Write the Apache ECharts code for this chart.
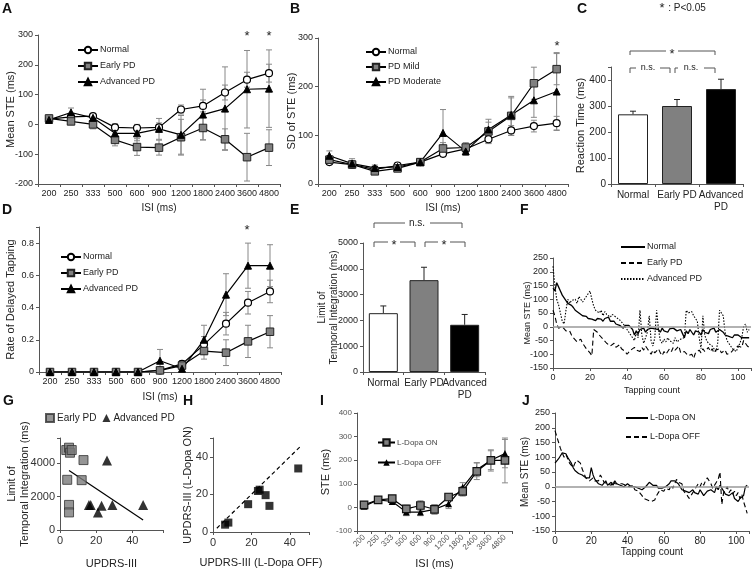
<!DOCTYPE html>
<html><head><meta charset="utf-8">
<script src="https://cdn.jsdelivr.net/npm/echarts@6/dist/echarts.min.js"></script>
<style>html,body{margin:0;padding:0;background:#fff}#c{width:755px;height:570px}</style>
</head><body><div id="c"></div>
<script>
// ---------- DATA ----------
const isiCats = ['200','250','333','500','600','900','1200','1800','2400','3600','4800'];
// Panel A: Mean STE
const aNormal = [18, 25, 28, -10, -12, -10, 50, 62, 107, 150, 172];
const aNormalErr = [8, 8, 8, 12, 12, 15, 15, 20, 25, 25, 30];
const aEarly = [20, 10, 0, -52, -76, -78, -43, -12, -50, -110, -78];
const aEarlyErr = [10, 10, 15, 20, 28, 25, 60, 40, 35, 80, 60];
const aAdv = [15, 40, 22, -30, -30, -15, -35, 33, 53, 118, 120];
const aAdvErr = [10, 15, 12, 20, 25, 35, 65, 85, 140, 130, 130];
// Panel B: SD of STE
const bNormal = [45, 40, 30, 38, 45, 62, 72, 92, 110, 119, 125];
const bNormalErr = [5, 5, 5, 5, 5, 6, 8, 8, 10, 12, 14];
const bMild = [50, 40, 26, 32, 45, 73, 75, 108, 140, 207, 236];
const bMildErr = [8, 8, 6, 6, 6, 12, 10, 25, 40, 33, 32];
const bMod = [58, 42, 33, 35, 45, 105, 67, 112, 142, 172, 190];
const bModErr = [10, 10, 6, 6, 6, 48, 8, 15, 35, 35, 80];
// Panel C: Reaction time
const groupCats = ['Normal', 'Early PD', 'Advanced\nPD'];
const cVals = [268, 300, 365];
const cErr = [12, 25, 38];
// Panel D: Rate of delayed tapping
const dNormal = [0, 0, 0, 0, 0, 0.01, 0.05, 0.17, 0.30, 0.43, 0.50];
const dNormalErr = [0, 0, 0, 0, 0, 0.01, 0.02, 0.05, 0.07, 0.07, 0.07];
const dEarly = [0, 0, 0, 0, 0, 0.01, 0.04, 0.13, 0.12, 0.19, 0.25];
const dEarlyErr = [0, 0, 0, 0, 0, 0.01, 0.02, 0.05, 0.08, 0.10, 0.10];
const dAdv = [0, 0, 0, 0, 0, 0.07, 0.02, 0.20, 0.48, 0.66, 0.66];
const dAdvErr = [0, 0, 0, 0, 0, 0.07, 0.02, 0.09, 0.13, 0.14, 0.13];
// Panel E: Limit of temporal integration
const eVals = [2280, 3560, 1830];
const eErr = [280, 500, 400];
// Panel F: Mean STE vs tapping count (index = tapping count)
const fNormal = [140,130,160,145,130,115,105,95,85,80,78,70,60,55,50,48,40,35,38,30,32,28,25,22,30,25,28,20,30,25,35,20,15,20,10,15,5,10,-5,5,0,5,0,-10,-30,-15,-25,-10,-15,-5,-20,-10,-15,-5,-12,-8,-15,-10,-20,-5,-15,-10,-20,-8,-12,-5,-10,-15,-20,-10,-25,-40,-15,-25,-10,-20,-30,-15,-10,-20,-30,-10,-20,-15,-25,-10,-15,-5,-20,-25,-10,-15,-20,-30,-25,-35,-30,-40,-30,-35,-30,-25,-40,-35,-40,-38,-40];
const fEarly = [60,40,10,-5,-10,0,-5,-15,-20,-15,-30,-40,-35,-55,-50,-45,-60,-55,-80,-85,-95,-105,-10,-15,-20,-30,-25,-45,-50,-60,-55,-70,-65,-60,-75,-70,-65,-80,-85,-90,-100,-95,-85,-90,-75,-85,-80,-90,-75,-85,-70,-80,-90,-100,-85,-95,-90,-80,-95,-105,-90,-100,-95,-80,-90,-75,-85,-80,-70,-95,-100,-90,-95,-105,-110,-100,-115,-95,-90,-85,-95,-80,-90,-85,-75,-90,-80,-95,-85,-90,-80,-95,-90,-85,-100,-105,-95,-90,-80,-85,-70,-65,-75,-50,-60,-70,-75];
const fAdv = [220,150,100,80,50,20,10,60,100,85,95,90,100,85,110,105,90,100,95,120,130,100,75,60,65,50,60,40,55,45,50,35,45,40,35,30,25,20,10,0,-10,-15,-30,-40,-50,-20,-40,60,-30,-60,-40,-20,40,-50,-70,-40,60,-10,-50,-60,-45,-55,-40,-50,-45,-60,-40,-55,-50,-45,-50,-40,60,50,45,55,40,30,20,-40,-80,40,-30,-50,-60,-55,-70,-80,-90,-60,60,50,40,-20,-50,-60,-70,-80,-75,-90,-95,-60,-40,0,10,-20,-10];
// Panel G: UPDRS-III vs limit of temporal integration
const gEarly = [[3.5,4780],[5,4920],[5.5,4620],[6.5,4780],[13,4180],[4,3000],[12,2980],[5,1500],[5,1050]];
const gAdv = [[26,4150],[16,1500],[17,1500],[21,1050],[23,1450],[29,1500],[46,1500]];
const gReg = [[5,3550],[46,600]];
// Panel H: UPDRS-III OFF vs ON
const hPts = [[6.3,3.9],[8,5],[18.3,14.8],[23.4,21.8],[24.3,22.5],[27.4,19.6],[29.4,13.9],[44.4,33.8]];
const hRef = [[2,2],[46,46]];
// Panel I: STE, L-Dopa ON / OFF
const iOn = [11, 32, 37, -6, 8, -8, 44, 68, 153, 199, 199];
const iOnErr = [10, 10, 10, 15, 20, 20, 15, 20, 35, 45, 95];
const iOff = [5, 32, 25, -20, -20, -8, 15, 85, 160, 200, 228];
const iOffErr = [10, 10, 10, 15, 15, 20, 20, 20, 30, 40, 60];
// Panel J: Mean STE vs tapping count, L-Dopa ON / OFF
const jOn = [80,85,95,105,115,110,112,100,90,80,65,55,50,45,48,40,35,30,25,30,65,40,25,20,10,15,5,10,20,5,10,15,5,20,10,15,5,10,0,5,10,5,0,-5,0,5,-5,0,-10,-5,0,5,15,10,5,0,5,-5,-10,-5,-10,0,5,10,20,15,20,15,10,5,-10,-5,-15,-10,-20,-25,-10,-20,-15,-25,-10,-20,-30,-25,-15,-20,-10,-15,-20,0,-10,5,0,-15,-25,-20,-30,-35,-20,-40,-45,-50,-40,-45,-30,0,5];
const jOff = [190,170,150,130,115,100,110,95,80,75,65,80,90,85,80,60,45,30,25,20,25,30,20,25,20,40,30,15,20,10,15,5,20,10,15,10,5,10,15,5,10,0,-5,5,-10,-5,-15,-20,-30,-40,-35,-45,-40,-50,-55,-45,-30,-20,-10,-5,-15,-5,0,-10,5,-5,10,25,15,20,10,-15,-20,-30,-40,-35,-20,-10,-5,10,0,15,5,20,30,35,10,-5,0,15,25,50,-60,-20,-10,0,-20,-10,-25,-15,-30,-20,-40,-25,-50,-70,-90];

// ---------- HELPERS ----------
const FONT = 'Liberation Sans, Arial, sans-serif';
function merge(base, o) {
  for (const k in o) {
    if (o[k] && typeof o[k] === 'object' && !Array.isArray(o[k]) && base[k] && typeof base[k] === 'object') base[k] = Object.assign({}, base[k], o[k]);
    else base[k] = o[k];
  }
  return base;
}
function ax(o) {
  return merge({
    axisLine: {show: true, onZero: false, lineStyle: {color: '#555', width: 1}},
    axisTick: {show: true, length: 3, lineStyle: {color: '#555'}},
    splitLine: {show: false},
    axisLabel: {color: '#222', fontSize: 9, fontFamily: FONT, margin: 5},
    nameTextStyle: {color: '#222', fontSize: 10, fontFamily: FONT},
    nameLocation: 'middle',
    nameMoveOverlap: false
  }, o);
}
const idxData = arr => arr.map((v, i) => [i, v]);
function errData(means, errs, upOnly) {
  const out = [];
  means.forEach((m, i) => { if (errs[i] > 0) out.push([i, upOnly ? m : m - errs[i], m + errs[i]]); });
  return out;
}
function errSeries(g, means, errs, color, upOnly) {
  return {
    type: 'custom', xAxisIndex: g, yAxisIndex: g, z: 1, silent: true,
    data: errData(means, errs, upOnly),
    encode: {x: 0, y: [1, 2]},
    renderItem: function (params, api) {
      const x = api.value(0), lo = api.value(1), hi = api.value(2);
      const p1 = api.coord([x, lo]), p2 = api.coord([x, hi]);
      const w = 3, st = {stroke: color, lineWidth: 1};
      const ch = [{type: 'line', shape: {x1: p1[0], y1: p1[1], x2: p2[0], y2: p2[1]}, style: st},
                  {type: 'line', shape: {x1: p2[0] - w, y1: p2[1], x2: p2[0] + w, y2: p2[1]}, style: st}];
      if (!upOnly) ch.push({type: 'line', shape: {x1: p1[0] - w, y1: p1[1], x2: p1[0] + w, y2: p1[1]}, style: st});
      return {type: 'group', children: ch};
    }
  };
}
const STY = {
  normal: {symbol: 'circle', symbolSize: 7, itemStyle: {color: '#fff', borderColor: '#000', borderWidth: 1.2}},
  early: {symbol: 'rect', symbolSize: 7.5, itemStyle: {color: '#808080', borderColor: '#222', borderWidth: 1}},
  adv: {symbol: 'triangle', symbolSize: 7, itemStyle: {color: '#000', borderColor: '#000', borderWidth: 1}}
};
function markerLine(g, name, data, sty) {
  return Object.assign({
    type: 'line', name: name, xAxisIndex: g, yAxisIndex: g, data: data,
    showSymbol: true, showAllSymbol: true, z: 3,
    lineStyle: {color: '#000', width: 1.2}
  }, sty);
}
function plainLine(g, name, data, type, extra) {
  return Object.assign({
    type: 'line', name: name, xAxisIndex: g, yAxisIndex: g, data: idxData(data),
    showSymbol: false, symbol: 'none', z: 3,
    itemStyle: {color: '#000'},
    lineStyle: {color: '#000', width: 1.1, type: type}
  }, extra || {});
}
const zeroLine = {silent: true, symbol: 'none', label: {show: false}, lineStyle: {color: '#999', width: 1.5, type: 'solid'}, data: [{yAxis: 0}]};
function lg(names, left, top, o) {
  return merge({
    data: names, left: left, top: top, orient: 'vertical', padding: 0,
    itemWidth: 20, itemHeight: 8, itemGap: 5, selectedMode: false,
    formatter: n => n.split('|')[1],
    textStyle: {fontSize: 9, fontFamily: FONT, color: '#222', lineHeight: 10, padding: [0, 0, 0, -3]}
  }, o || {});
}
const hideMax = (mx) => (v => (Math.abs(v - mx) < 1e-9 ? '' : String(+v.toFixed(2))));

// ---------- OPTION ----------
const grid = [
  {left: 38, top: 35, width: 242, height: 149},
  {left: 318, top: 38, width: 250, height: 146},
  {left: 611, top: 67, width: 132, height: 117},
  {left: 39, top: 227, width: 242, height: 145},
  {left: 363, top: 243, width: 122, height: 129},
  {left: 553, top: 258, width: 198, height: 110},
  {left: 60, top: 438, width: 103, height: 93},
  {left: 213, top: 438, width: 96, height: 94},
  {left: 357, top: 413, width: 155, height: 118},
  {left: 555, top: 413, width: 194, height: 118}
];
const xAxis = [
  ax({type: 'category', gridIndex: 0, data: isiCats, axisLabel: {interval: 0}, name: 'ISI (ms)', nameGap: 19}),
  ax({type: 'category', gridIndex: 1, data: isiCats, axisLabel: {interval: 0}, name: 'ISI (ms)', nameGap: 19}),
  ax({type: 'category', gridIndex: 2, data: groupCats, axisLabel: {interval: 0, fontSize: 10, lineHeight: 12}}),
  ax({type: 'category', gridIndex: 3, data: isiCats, axisLabel: {interval: 0}, name: 'ISI (ms)', nameGap: 20}),
  ax({type: 'category', gridIndex: 4, data: groupCats, axisLabel: {interval: 0, fontSize: 10, lineHeight: 12}}),
  ax({type: 'value', gridIndex: 5, min: 0, max: 107, interval: 20, axisLabel: {formatter: hideMax(107)}, name: 'Tapping count', nameGap: 18, nameTextStyle: {fontSize: 9}}),
  ax({type: 'value', gridIndex: 6, min: 0, max: 57, interval: 20, axisLabel: {formatter: hideMax(57), fontSize: 11, color: '#333'}, name: 'UPDRS-III', nameGap: 28, nameTextStyle: {fontSize: 11}}),
  ax({type: 'value', gridIndex: 7, min: 0, max: 50, interval: 20, axisLabel: {formatter: hideMax(50), fontSize: 11, color: '#333'}, name: 'UPDRS-III (L-Dopa OFF)', nameGap: 25, nameTextStyle: {fontSize: 11}}),
  ax({type: 'category', gridIndex: 8, data: isiCats, axisLabel: {interval: 0, rotate: 45, fontSize: 8, color: '#555'}, name: 'ISI (ms)', nameGap: 27, nameTextStyle: {fontSize: 11}}),
  ax({type: 'value', gridIndex: 9, min: 0, max: 107, interval: 20, axisLabel: {formatter: hideMax(107), fontSize: 10}, name: 'Tapping count', nameGap: 16, nameTextStyle: {fontSize: 10}})
];
const yAxis = [
  ax({type: 'value', gridIndex: 0, min: -200, max: 300, interval: 100, name: 'Mean STE (ms)', nameGap: 22, nameTextStyle: {fontSize: 11}}),
  ax({type: 'value', gridIndex: 1, min: 0, max: 300, interval: 100, name: 'SD of STE (ms)', nameGap: 21, nameTextStyle: {fontSize: 11}}),
  ax({type: 'value', gridIndex: 2, min: 0, max: 450, interval: 100, axisLabel: {formatter: hideMax(450), fontSize: 10}, name: 'Reaction Time (ms)', nameGap: 25, nameTextStyle: {fontSize: 11}}),
  ax({type: 'value', gridIndex: 3, min: 0, max: 0.9, interval: 0.2, axisLabel: {formatter: hideMax(0.9)}, name: 'Rate of Delayed Tapping', nameGap: 23, nameTextStyle: {fontSize: 11}}),
  ax({type: 'value', gridIndex: 4, min: 0, max: 5000, interval: 1000, axisLabel: {fontSize: 9, formatter: v => String(v)}, name: 'Limit of\nTemporal Integration (ms)', nameGap: 23, nameTextStyle: {fontSize: 10, lineHeight: 12}}),
  ax({type: 'value', gridIndex: 5, min: -150, max: 250, interval: 50, axisLabel: {fontSize: 9}, name: 'Mean STE (ms)', nameGap: 21, nameTextStyle: {fontSize: 9}}),
  ax({type: 'value', gridIndex: 6, min: 0, max: 5500, interval: 2000, axisLabel: {formatter: hideMax(5500), fontSize: 11, color: '#333'}, name: 'Limit of\nTemporal Integration (ms)', nameGap: 29, nameTextStyle: {fontSize: 11, lineHeight: 13}}),
  ax({type: 'value', gridIndex: 7, min: 0, max: 50, interval: 20, axisLabel: {formatter: hideMax(50), fontSize: 11, color: '#333', margin: 5}, name: 'UPDRS-III (L-Dopa ON)', nameGap: 20, nameTextStyle: {fontSize: 11}}),
  ax({type: 'value', gridIndex: 8, min: -100, max: 400, interval: 100, axisLabel: {fontSize: 8, color: '#555'}, name: 'STE (ms)', nameGap: 26, nameTextStyle: {fontSize: 11}}),
  ax({type: 'value', gridIndex: 9, min: -150, max: 250, interval: 50, axisLabel: {fontSize: 9}, name: 'Mean STE (ms)', nameGap: 25, nameTextStyle: {fontSize: 10}})
];

const series = [
  // A
  errSeries(0, aNormal, aNormalErr, '#888'), errSeries(0, aEarly, aEarlyErr, '#888'), errSeries(0, aAdv, aAdvErr, '#888'),
  markerLine(0, 'A|Normal', aNormal, STY.normal), markerLine(0, 'A|Early PD', aEarly, STY.early), markerLine(0, 'A|Advanced PD', aAdv, STY.adv),
  // B
  errSeries(1, bNormal, bNormalErr, '#888'), errSeries(1, bMild, bMildErr, '#888'), errSeries(1, bMod, bModErr, '#888'),
  markerLine(1, 'B|Normal', bNormal, STY.normal), markerLine(1, 'B|PD Mild', bMild, STY.early), markerLine(1, 'B|PD Moderate', bMod, STY.adv),
  // C
  {type: 'bar', xAxisIndex: 2, yAxisIndex: 2, barWidth: 30, z: 2,
   data: cVals.map((v, i) => ({value: v, itemStyle: {color: ['#fff', '#808080', '#000'][i], borderColor: '#222', borderWidth: 1}}))},
  errSeries(2, cVals, cErr, '#222', true),
  // D
  errSeries(3, dNormal, dNormalErr, '#888'), errSeries(3, dEarly, dEarlyErr, '#888'), errSeries(3, dAdv, dAdvErr, '#888'),
  markerLine(3, 'D|Normal', dNormal, STY.normal), markerLine(3, 'D|Early PD', dEarly, STY.early), markerLine(3, 'D|Advanced PD', dAdv, STY.adv),
  // E
  {type: 'bar', xAxisIndex: 4, yAxisIndex: 4, barWidth: 29, z: 2,
   data: eVals.map((v, i) => ({value: v, itemStyle: {color: ['#fff', '#808080', '#000'][i], borderColor: '#222', borderWidth: 1}}))},
  errSeries(4, eVals, eErr, '#222', true),
  // F
  plainLine(5, 'F|Normal', fNormal, 'solid', {markLine: zeroLine, lineStyle: {color: '#000', width: 1.3, type: 'solid'}}),
  plainLine(5, 'F|Early PD', fEarly, [5, 3]),
  plainLine(5, 'F|Advanced PD', fAdv, [1.5, 1.5]),
  // G
  {type: 'scatter', name: 'G|Early PD', xAxisIndex: 6, yAxisIndex: 6, data: gEarly, symbol: 'rect', symbolSize: 9, z: 3,
   itemStyle: {color: '#7a7a7a', borderColor: '#333', borderWidth: 1}},
  {type: 'scatter', name: 'G|Advanced PD', xAxisIndex: 6, yAxisIndex: 6, data: gAdv, symbol: 'triangle', symbolSize: 10, z: 3,
   itemStyle: {color: '#000'}},
  {type: 'line', xAxisIndex: 6, yAxisIndex: 6, data: gReg, symbol: 'none', lineStyle: {color: '#000', width: 1.2}},
  // H
  {type: 'line', xAxisIndex: 7, yAxisIndex: 7, data: hRef, symbol: 'none', lineStyle: {color: '#000', width: 1.2, type: [4, 3]}},
  {type: 'scatter', xAxisIndex: 7, yAxisIndex: 7, data: hPts, symbol: 'rect', symbolSize: 8, z: 3, itemStyle: {color: '#000'}},
  // I
  errSeries(8, iOn, iOnErr, '#888'), errSeries(8, iOff, iOffErr, '#888'),
  markerLine(8, 'I|L-Dopa OFF', iOff, {symbol: 'triangle', symbolSize: 7, itemStyle: {color: '#000'}}),
  markerLine(8, 'I|L-Dopa ON', iOn, {symbol: 'rect', symbolSize: 7.5, itemStyle: {color: '#808080', borderColor: '#111', borderWidth: 1.2}}),
  // J
  plainLine(9, 'J|L-Dopa ON', jOn, 'solid', {markLine: zeroLine, lineStyle: {color: '#000', width: 1.2, type: 'solid'}}),
  plainLine(9, 'J|L-Dopa OFF', jOff, [5, 3])
];

const noSym = {itemStyle: {opacity: 0}};
const legend = [
  lg(['A|Normal', 'A|Early PD', 'A|Advanced PD'], 77, 45, {itemGap: 6}),
  lg(['B|Normal', 'B|PD Mild', 'B|PD Moderate'], 365, 47, {itemGap: 5}),
  lg(['D|Normal', 'D|Early PD', 'D|Advanced PD'], 60, 252, {itemGap: 6}),
  lg(['F|Normal', 'F|Early PD', 'F|Advanced PD'], 620, 242, Object.assign({itemWidth: 24, itemGap: 6}, noSym)),
  lg(['G|Early PD', 'G|Advanced PD'], 45, 413, {orient: 'horizontal', itemWidth: 8, itemHeight: 8, itemGap: 6, textStyle: {fontSize: 10, fontFamily: FONT, color: '#222', padding: [0, 0, 0, -2]}}),
  lg(['I|L-Dopa ON', 'I|L-Dopa OFF'], 377, 438, {itemWidth: 17, itemHeight: 8, itemGap: 11, textStyle: {fontSize: 8, fontFamily: FONT, color: '#444', lineHeight: 9, padding: [0, 0, 0, -3]}}),
  lg(['J|L-Dopa ON', 'J|L-Dopa OFF'], 625, 413, Object.assign({itemWidth: 22, itemGap: 9, textStyle: {fontSize: 9, fontFamily: FONT, color: '#222', lineHeight: 10, padding: [0, 0, 0, -3]}}, noSym))
];

function T(text, x, y, o) {
  return {type: 'text', x: x, y: y, silent: true, style: Object.assign({text: text, font: '10px ' + FONT, fill: '#222', textAlign: 'center', textVerticalAlign: 'middle'}, o || {})};
}
function P(points) {
  return {type: 'polyline', silent: true, shape: {points: points}, style: {stroke: '#555', fill: null, lineWidth: 1}};
}
const L = (t, x, y) => T(t, x, y, {font: 'bold 14px ' + FONT, fill: '#111', textAlign: 'left', textVerticalAlign: 'top'});
const STAR = (x, y) => T('*', x, y, {font: '13px ' + FONT, fill: '#222'});
const graphic = [
  L('A', 2, 2), L('B', 290, 2), L('C', 577, 2), L('D', 2, 203), L('E', 290, 203), L('F', 520, 203),
  L('G', 3, 394), L('H', 183, 394), L('I', 320, 394), L('J', 522, 394),
  STAR(247, 36), STAR(269, 36), STAR(557, 46), STAR(247, 230),
  STAR(662, 8), T(': P<0.05', 687, 8, {font: '10px ' + FONT}),
  // C brackets
  P([[630, 55], [630, 51], [666, 51]]), P([[678, 51], [715, 51], [715, 55]]), STAR(672, 54),
  P([[630, 73], [630, 68], [636, 68]]), T('n.s.', 648, 68, {font: '9px ' + FONT}), P([[660, 68], [670, 68], [670, 73]]),
  P([[675, 73], [675, 68], [678, 68]]), T('n.s.', 691, 68, {font: '9px ' + FONT}), P([[704, 68], [715, 68], [715, 73]]),
  // E brackets
  P([[374, 228], [374, 223], [405, 223]]), T('n.s.', 417, 223, {font: '10px ' + FONT}), P([[430, 223], [462, 223], [462, 228]]),
  P([[374, 247], [374, 242], [388, 242]]), STAR(394, 245), P([[400, 242], [415, 242], [415, 247]]),
  P([[425, 247], [425, 242], [438, 242]]), STAR(444, 245), P([[450, 242], [465, 242], [465, 247]])
];

const chart = echarts.init(document.getElementById('c'), null, {renderer: 'canvas'});
chart.setOption({animation: false, backgroundColor: '#fff', grid, xAxis, yAxis, series, legend, graphic,
  textStyle: {fontFamily: FONT}});
</script></body></html>
